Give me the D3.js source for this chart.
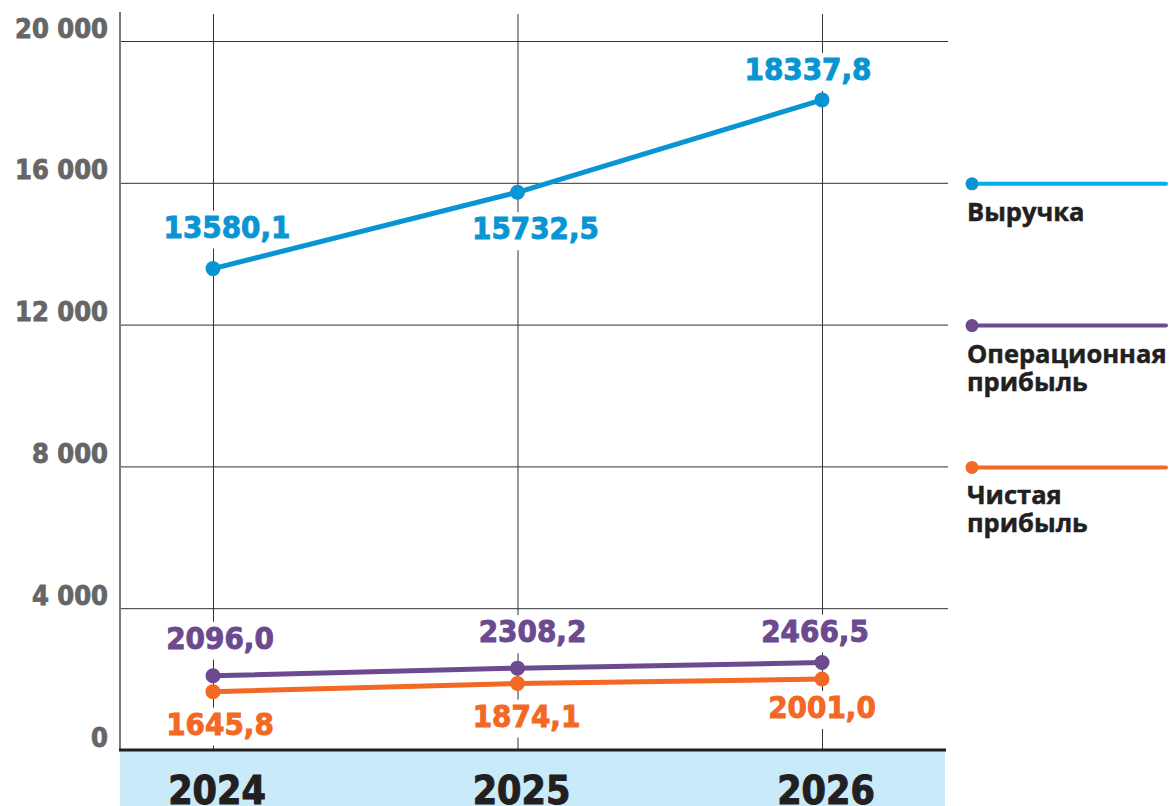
<!DOCTYPE html>
<html>
<head>
<meta charset="utf-8">
<script src="https://cdn.jsdelivr.net/npm/d3@7"></script>
<style>
  body { margin: 0; background: #fff; }
  .num { font-family: "DejaVu Sans Condensed", "DejaVu Sans", sans-serif; font-weight: bold; }
  .legend text { font-family: "Open Sans", sans-serif; font-weight: bold; fill: #231f20; stroke: #231f20; stroke-width: 0.5px; }
</style>
</head>
<body>
<script>

// chart data
var years = ["2024", "2025", "2026"];
var revenue = [13580.1, 15732.5, 18337.8];
var opProfit = [2096.0, 2308.2, 2466.5];
var netProfit = [1645.8, 1874.1, 2001.0];
var yTicks = [0, 4000, 8000, 12000, 16000, 20000];
var seriesNames = [["Выручка"], ["Операционная", "прибыль"], ["Чистая", "прибыль"]];

var W = 1175, H = 806;

var x = d3.scalePoint()
  .domain(years)
  .range([213, 822]);

var y = d3.scaleLinear()
  .domain([0, 20000])
  .range([750, 41]);

var fmtTick = d3.formatLocale({ decimal: ",", thousands: " ", grouping: [3] }).format(",d");
var fmtVal = d3.formatLocale({ decimal: ",", thousands: "", grouping: [3] }).format(".1f");

var series = [
  { values: revenue,   color: "#0995d3", legendLine: "#00aee9", legendY: 16000,
    offs: [[14, -31], [18, 47], [-14, -20]] },
  { values: opProfit,  color: "#6b4a8f", legendLine: "#6b4a8f", legendY: 12000,
    offs: [[7, -27], [15, -26], [-7, -21]] },
  { values: netProfit, color: "#f26824", legendLine: "#f26824", legendY: 8000,
    offs: [[7, 43], [9, 43], [0, 39]] }
];

var svg = d3.select("body").append("svg")
  .attr("width", W)
  .attr("height", H);

// bottom band with years
svg.append("rect")
  .attr("x", 120).attr("y", 751)
  .attr("width", 825).attr("height", 55)
  .attr("fill", "#c9eaf8");

svg.selectAll(".year")
  .data(years)
  .enter().append("text")
  .attr("class", "num year")
  .attr("x", function(d) { return x(d) + 4; })
  .attr("y", 804)
  .attr("text-anchor", "middle")
  .attr("font-size", 39)
  .attr("fill", "#231f20")
  .attr("stroke", "#231f20")
  .attr("stroke-width", 1)
  .text(function(d) { return d; });

// horizontal grid
svg.selectAll(".hgrid")
  .data(yTicks.slice(1))
  .enter().append("line")
  .attr("x1", 120).attr("x2", 948)
  .attr("y1", function(d) { return y(d) + 0.5; })
  .attr("y2", function(d) { return y(d) + 0.5; })
  .attr("stroke", "#333")
  .attr("stroke-width", 1);

// vertical grid at each year
svg.selectAll(".vgrid")
  .data(years)
  .enter().append("line")
  .attr("x1", function(d) { return x(d) + 0.5; })
  .attr("x2", function(d) { return x(d) + 0.5; })
  .attr("y1", 14).attr("y2", 750)
  .attr("stroke", "#333")
  .attr("stroke-width", 1);

// y axis
var yAxis = d3.axisLeft(y)
  .tickValues(yTicks)
  .tickSize(0)
  .tickFormat(fmtTick);

var gy = svg.append("g")
  .attr("transform", "translate(120,0)")
  .call(yAxis);
gy.select(".domain").remove();
gy.selectAll("text")
  .attr("class", "num")
  .attr("x", -12)
  .attr("y", -4)
  .attr("dy", 0)
  .attr("font-size", 27)
  .attr("font-family", null)
  .attr("fill", "#666")
  .attr("stroke", "#666")
  .attr("stroke-width", 0.8);

svg.append("line")
  .attr("x1", 120).attr("x2", 120)
  .attr("y1", 12).attr("y2", 751)
  .attr("stroke", "#7a7a7a")
  .attr("stroke-width", 2);

svg.append("line")
  .attr("x1", 119).attr("x2", 946)
  .attr("y1", 750).attr("y2", 750)
  .attr("stroke", "#231f20")
  .attr("stroke-width", 3);

var line = d3.line()
  .x(function(d, i) { return x(years[i]); })
  .y(function(d) { return y(d); });

// value labels (white boxes hide the grid behind them)
series.forEach(function(s) {
  s.values.forEach(function(v, i) {
    var g = svg.append("g");
    var t = g.append("text")
      .attr("class", "num")
      .attr("x", x(years[i]) + s.offs[i][0])
      .attr("y", y(v) + s.offs[i][1])
      .attr("text-anchor", "middle")
      .attr("font-size", 31)
      .attr("fill", s.color)
      .attr("stroke", s.color)
      .attr("stroke-width", 0.9)
      .text(fmtVal(v));
    var b = t.node().getBBox();
    g.insert("rect", "text")
      .attr("x", b.x - 2).attr("y", b.y + 2)
      .attr("width", b.width + 4).attr("height", b.height + 2)
      .attr("fill", "#fff");
  });
});

// lines and dots
series.forEach(function(s) {
  svg.append("path")
    .datum(s.values)
    .attr("d", line)
    .attr("fill", "none")
    .attr("stroke", s.color)
    .attr("stroke-width", 5);

  svg.selectAll(null)
    .data(s.values)
    .enter().append("circle")
    .attr("cx", function(d, i) { return x(years[i]); })
    .attr("cy", function(d) { return y(d); })
    .attr("r", 7.5)
    .attr("fill", s.color);
});

// legend
var lg = svg.append("g").attr("class", "legend");
series.forEach(function(s, k) {
  var ly = y(s.legendY) + 1;
  lg.append("line")
    .attr("x1", 972).attr("x2", 1166)
    .attr("y1", ly).attr("y2", ly)
    .attr("stroke", s.legendLine)
    .attr("stroke-width", 4)
    .attr("stroke-linecap", "round");
  lg.append("circle")
    .attr("cx", 972).attr("cy", ly)
    .attr("r", 6.5)
    .attr("fill", s.color);
  var t = lg.append("text")
    .attr("x", 967)
    .attr("y", ly + 37)
    .attr("font-size", 25.5);
  seriesNames[k].forEach(function(name, j) {
    t.append("tspan")
      .attr("x", 967)
      .attr("dy", j === 0 ? 0 : 28)
      .text(name);
  });
});

</script>
</body>
</html>
